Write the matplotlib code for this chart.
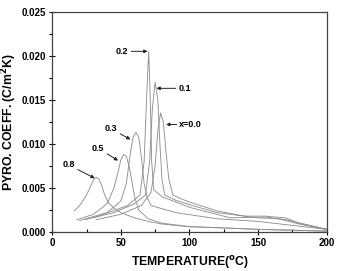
import matplotlib
matplotlib.use('Agg')
import matplotlib.pyplot as plt
import matplotlib.ticker as ticker

plt.rcParams['font.family'] = 'Liberation Sans'
plt.rcParams['font.weight'] = 'bold'

# temperature (C) and pyroelectric coefficient (C/m^2K) for each composition x
t_00 = [32, 50, 65, 72, 75, 77, 79, 81, 83, 85, 88, 95, 100, 120, 140, 155, 170, 180, 200]
p_00 = [0.0014, 0.0020, 0.0030, 0.0045, 0.0075, 0.0115, 0.0135, 0.0125, 0.0090, 0.0060,
        0.0042, 0.0037, 0.0034, 0.0024, 0.0018, 0.0018, 0.0016, 0.0010, 0.0003]

t_01 = [24, 45, 60, 68, 71, 73, 75, 77, 78.5, 80, 82, 90, 100, 120, 150, 165, 180, 200]
p_01 = [0.0014, 0.0022, 0.0032, 0.0042, 0.0080, 0.0140, 0.0170, 0.0150, 0.0100, 0.0060,
        0.0042, 0.0036, 0.0031, 0.0022, 0.0016, 0.0015, 0.0009, 0.0003]

t_02 = [30, 55, 64, 67, 69, 70.3, 71.5, 72.5, 74, 80, 100, 130, 155, 170, 200]
p_02 = [0.0016, 0.0030, 0.0042, 0.0080, 0.0160, 0.0205, 0.0150, 0.0080, 0.0048, 0.0040,
        0.0028, 0.0016, 0.0017, 0.0014, 0.0003]

t_03 = [20, 40, 50, 54, 57, 59, 61, 63, 65, 67, 69, 72, 90, 120, 150, 200]
p_03 = [0.0013, 0.0022, 0.0035, 0.0055, 0.0090, 0.0108, 0.0113, 0.0108, 0.0085, 0.0055,
        0.0040, 0.0030, 0.0022, 0.0015, 0.0012, 0.0003]

t_05 = [18, 30, 40, 45, 48, 50, 52, 54, 56, 58, 60, 63, 70, 80, 100, 150, 200]
p_05 = [0.0014, 0.0020, 0.0032, 0.0050, 0.0068, 0.0082, 0.0088, 0.0086, 0.0075, 0.0058,
        0.0040, 0.0025, 0.0015, 0.0010, 0.0006, 0.0003, 0.0001]

t_08 = [16, 20, 25, 28, 30, 32, 34, 36, 38, 41, 45, 50, 60, 70, 80, 100, 120, 150, 200]
p_08 = [0.0024, 0.0030, 0.0042, 0.0052, 0.0059, 0.0062, 0.0060, 0.0053, 0.0043, 0.0033,
        0.0027, 0.0022, 0.0016, 0.0012, 0.0009, 0.0006, 0.0005, 0.0003, 0.0001]

fig = plt.figure(figsize=(3.37, 2.71), dpi=100)
ax = fig.add_axes([0.155, 0.144, 0.814, 0.813])

for t, p in [(t_00, p_00), (t_01, p_01), (t_02, p_02), (t_03, p_03), (t_05, p_05), (t_08, p_08)]:
    ax.plot(t, p, color='#909090', lw=0.65)

ax.set_xlim(0, 200)
ax.set_ylim(0, 0.025)
ax.xaxis.set_major_locator(ticker.MultipleLocator(50))
ax.xaxis.set_minor_locator(ticker.MultipleLocator(25))
ax.yaxis.set_major_locator(ticker.MultipleLocator(0.005))
ax.yaxis.set_minor_locator(ticker.MultipleLocator(0.0025))
ax.yaxis.set_major_formatter(ticker.FormatStrFormatter('%.3f'))
ax.tick_params(which='major', direction='inout', length=5, width=0.8, labelsize=7, pad=2)
ax.tick_params(axis='x', which='minor', direction='in', length=2.5, width=0.8)
ax.tick_params(axis='y', which='minor', direction='out', length=2.5, width=0.8)
for s in ax.spines.values():
    s.set_linewidth(0.9)
    s.set_color('#444444')

fig.text(0.564, 0.03, 'TEMPERATURE($\\mathbf{^{o}}$C)', fontsize=8.8, fontweight='bold',
         ha='center', va='center')
fig.text(0.026, 0.55, 'PYRO. COEFF. (C/m$\\mathbf{^{2}}$K)', fontsize=8.8, fontweight='bold',
         ha='center', va='center', rotation=90)

arrow = dict(arrowstyle='-|>', color='#222222', lw=0.7, mutation_scale=5, shrinkA=0, shrinkB=0)
ax.annotate('0.2', xy=(69.5, 0.0205), xytext=(51, 0.0205), fontsize=6.5,
            va='center', ha='center', arrowprops=arrow)
ax.annotate('0.1', xy=(76, 0.0163), xytext=(96.5, 0.0163), fontsize=6.5,
            va='center', ha='center', arrowprops=arrow)
ax.annotate('x=0.0', xy=(83, 0.0122), xytext=(101, 0.0122), fontsize=6.5,
            va='center', ha='center', arrowprops=arrow)
ax.annotate('0.3', xy=(57, 0.0105), xytext=(43, 0.0117), fontsize=6.5,
            va='center', ha='center', arrowprops=arrow)
ax.annotate('0.5', xy=(48, 0.0081), xytext=(33.5, 0.0095), fontsize=6.5,
            va='center', ha='center', arrowprops=arrow)
ax.annotate('0.8', xy=(31, 0.0061), xytext=(12, 0.0076), fontsize=6.5,
            va='center', ha='center', arrowprops=arrow)

fig.savefig('out.png', dpi=100)
